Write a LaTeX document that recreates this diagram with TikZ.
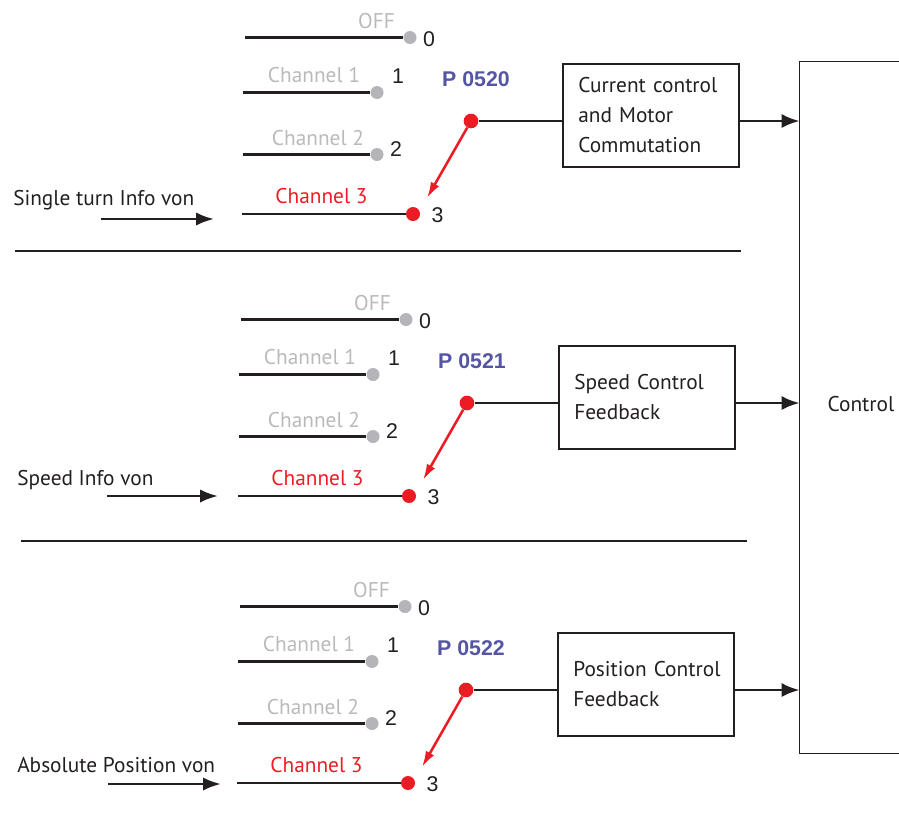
\documentclass[tikz,border=0pt]{standalone}
\usepackage{fontspec}
\setmainfont{PT Sans}
\newfontfamily\arialf{Liberation Sans}
\usetikzlibrary{arrows.meta}
\definecolor{offgray}{RGB}{185,186,188}
\definecolor{dotgray}{RGB}{180,181,184}
\definecolor{swred}{RGB}{237,28,36}
\definecolor{plblue}{RGB}{85,85,165}
\definecolor{ink}{RGB}{35,31,32}
\tikzset{
  lbl/.style={font=\fontsize{16}{19}\selectfont, inner sep=0pt, anchor=base, text=ink},
  greylbl/.style={lbl, text=offgray},
  redlbl/.style={lbl, text=swred},
  num/.style={font=\arialf\fontsize{16}{19}\selectfont, inner sep=0pt, anchor=base, text=ink},
  plabel/.style={font=\arialf\bfseries\fontsize{16}{19}\selectfont, text=plblue, inner sep=0pt, anchor=base},
  gdot/.style={circle, fill=dotgray, minimum size=9.75pt, inner sep=0pt},
  rdot/.style={circle, fill=swred, minimum size=10.5pt, inner sep=0pt},
  sdot/.style={circle, fill=swred, minimum size=11pt, inner sep=0pt},
  chline/.style={draw=ink, line width=1.8pt},
  thinline/.style={draw=ink, line width=0.9pt},
  swarrow/.style={draw=swred, line width=1.9pt, -{Latex[length=12pt,width=7pt]}},
  fbox/.style={draw=ink, line width=1.1pt, minimum width=132pt, minimum height=77.25pt,
    align=left, text width=109pt, inner xsep=11.5pt, inner ysep=0pt,
    font=\fontsize{16}{22.5}\selectfont, text=ink},
  frame/.style={draw=ink, line width=1.1pt},
  outarrow/.style={draw=ink, line width=2.2pt, -{Latex[length=13.5pt,width=10.5pt]}},
  inarrow/.style={draw=ink, line width=2pt, -{Latex[length=13.5pt,width=10pt]}},
  sepline/.style={draw=ink, line width=1.8pt},
}
\newcommand\selector[3]{%
  % labels
  \node[greylbl] (#1t0) at (376.5,28) {OFF};
  \node[greylbl] (#1t1) at (314,82) {Channel 1};
  \node[greylbl] (#1t2) at (318,145) {Channel 2};
  \node[redlbl]  (#1t3) at (321.5,203) {Channel 3};
  % dots
  \node[gdot] (#1d0) at (410,37.5) {};
  \node[gdot] (#1d1) at (377,92.5) {};
  \node[gdot] (#1d2) at (377,154.5) {};
  \node[rdot] (#1d3) at (413,214) {};
  % line starts
  \coordinate (#1s0) at (245,37.5);
  \coordinate (#1s1) at (243,92.5);
  \coordinate (#1s2) at (243,154.5);
  \coordinate (#1s3) at (242,214);
  \draw[chline] (#1s0) -- (#1d0);
  \draw[chline] (#1s1) -- (#1d1);
  \draw[chline] (#1s2) -- (#1d2);
  \draw[chline] (#1s3) -- (#1d3);
  % numbers
  \node[num] (#1n0) at (429,46) {0};
  \node[num] (#1n1) at (398,83) {1};
  \node[num] (#1n2) at (396,156) {2};
  \node[num] (#1n3) at (437.5,222) {3};
  % switch
  \node[plabel] (#1p) at (476,86) {#2};
  \node[sdot] (#1sw) at (471,121) {};
  \coordinate (#1tip) at (427,198);
  \draw[swarrow] (#1sw) -- (#1tip);
  \node[fbox] (#1box) at (651,115.5) {#3};
  \draw[thinline] (#1sw) -- (#1sw -| #1box.west);
  \draw[outarrow] (#1box.east |- #1sw) -- (#1sw -| control.west);
}
\begin{document}
\begin{tikzpicture}[x=0.75pt,y=-0.75pt]
\useasboundingbox (0,0) rectangle (899,822);
% Control block
\node[minimum width=91.5pt, minimum height=518.25pt, inner sep=0pt] (control) at (861,407.5) {};
\coordinate (rightedge) at (899,0);
\draw[frame] (control.north west -| rightedge) -- (control.north west) -- (control.south west) -- (control.south west -| rightedge);
\node[lbl] (controltext) at (861,411) {Control};

\begin{scope}
\selector{a}{P 0520}{\mbox{Current control}\\\mbox{and Motor}\\\mbox{Commutation}}
\end{scope}
\begin{scope}[shift={(-4,282)}]
\selector{b}{P 0521}{\mbox{Speed Control}\\\mbox{Feedback}}
\end{scope}
\begin{scope}[shift={(-5,569)}]
\selector{c}{P 0522}{\mbox{Position Control}\\\mbox{Feedback}}
\end{scope}

% inputs
\node[lbl, anchor=base west] (ina) at (13,205) {Single turn Info von};
\coordinate (ia1) at (101,219);
\coordinate (ia2) at (214,219);
\draw[inarrow] (ia1) -- (ia2);
\node[lbl, anchor=base west] (inb) at (17,485) {Speed Info von};
\coordinate (ib1) at (107,496);
\coordinate (ib2) at (218,496);
\draw[inarrow] (ib1) -- (ib2);
\node[lbl, anchor=base west] (inc) at (17,772) {Absolute Position von};
\coordinate (ic1) at (108,784);
\coordinate (ic2) at (221,784);
\draw[inarrow] (ic1) -- (ic2);

% separators
\coordinate (sa1) at (15,251);
\coordinate (sa2) at (741,251);
\draw[sepline] (sa1) -- (sa2);
\coordinate (sb1) at (21,541);
\coordinate (sb2) at (747,541);
\draw[sepline] (sb1) -- (sb2);
\end{tikzpicture}
\end{document}
